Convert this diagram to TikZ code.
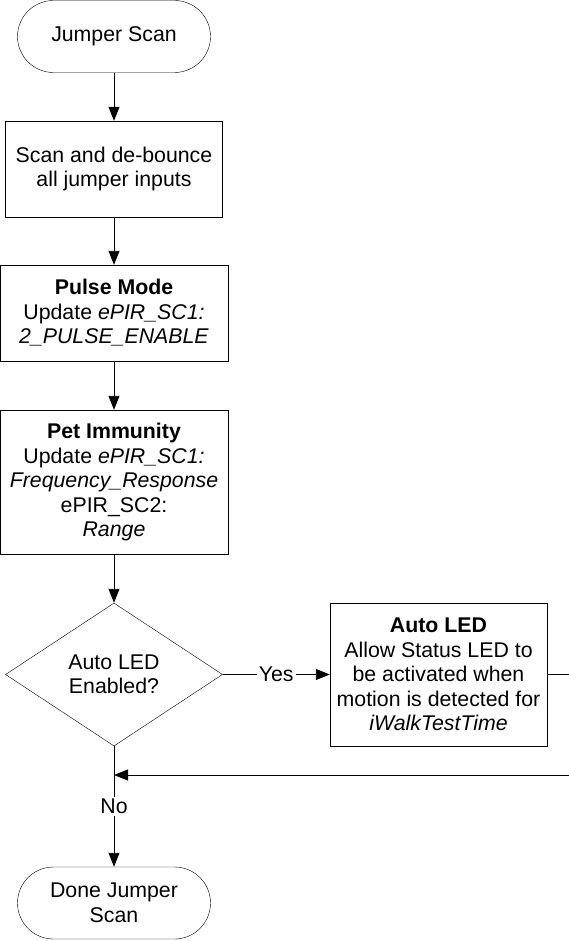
\documentclass[tikz,border=0pt]{standalone}
\usepackage{fontspec}
\setmainfont{Liberation Sans}
\usetikzlibrary{arrows.meta, shapes.geometric, positioning}

\begin{document}
\begin{tikzpicture}[x=1pt, y=-1pt, >={Triangle[width=11pt,length=14pt]},
  every node/.style={font=\fontsize{21.3}{24.5}\selectfont, align=center, inner sep=0pt},
  terminal/.style={draw, rounded corners=36pt, minimum width=193pt, minimum height=72pt},
  procbox/.style={draw, rectangle, minimum height=96pt},
  decision/.style={draw, diamond, aspect=1.52, minimum width=217pt, minimum height=143pt},
  flow/.style={->, line width=0.9pt}]
  \useasboundingbox (0,0) rectangle (569,941);
  \clip (0,0) rectangle (569,941);
  % main column
  \node[terminal] (start) at (114,36.5) {Jumper Scan};
  \node[procbox, minimum width=217pt] (scan) at (114,169) {Scan and de-bounce\\all jumper inputs};
  \node[procbox, minimum width=228pt] (pulse) at (114,313)
    {\textbf{Pulse Mode}\\Update \textit{ePIR\_SC1:}\\\textit{2\_PULSE\_ENABLE}};
  \node[procbox, minimum width=228pt, minimum height=144pt] (pet) at (114,482)
    {\textbf{Pet Immunity}\\Update \textit{ePIR\_SC1:}\\\textit{Frequency\_Response}\\ePIR\_SC2:\\\textit{Range}};
  \node[decision] (autoq) at (114,674.5) {Auto LED\\Enabled?};
  \node[terminal] (done) at (114,903) {Done Jumper\\Scan};
  % yes branch
  \node[procbox, minimum width=217pt, minimum height=143pt] (autoled) at (438.5,674.5)
    {\textbf{Auto LED}\\Allow Status LED to\\be activated when\\motion is detected for\\\textit{iWalkTestTime}};
  \coordinate (rejoin) at (114,775);
  \draw[flow] (start) -- (scan);
  \draw[flow] (scan) -- (pulse);
  \draw[flow] (pulse) -- (pet);
  \draw[flow] (pet) -- (autoq);
  \draw[flow] (autoq) -- node[fill=white, inner sep=2pt] {Yes} (autoled);
  \draw[flow] (autoq) -- node[fill=white, inner sep=2pt] {No} (done);
  % return line, runs off the right edge
  \draw[flow] (autoled.east) -- ++(30,0) |- (rejoin);
\end{tikzpicture}
\end{document}
